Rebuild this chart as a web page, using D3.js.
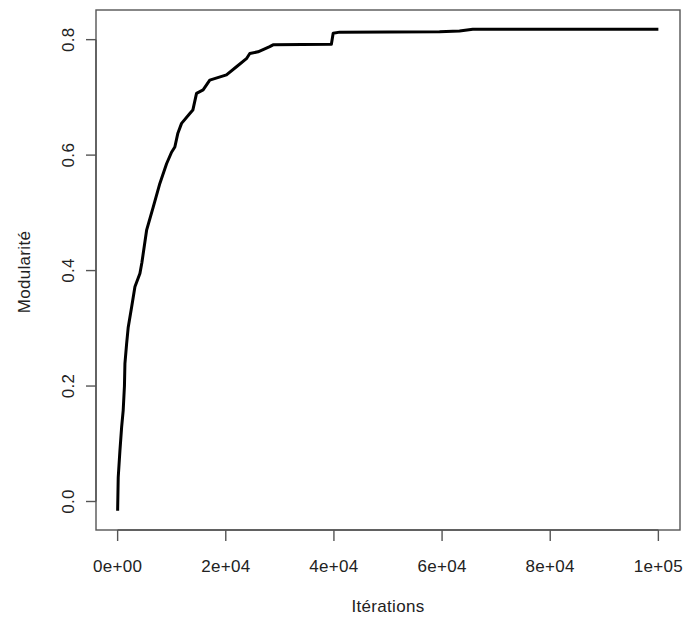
<!DOCTYPE html>
<html>
<head>
<meta charset="utf-8">
<script src="https://cdn.jsdelivr.net/npm/d3@7"></script>
<style>
    body { margin: 0; background: #fff; }
    text { font-family: "Liberation Sans", Arial, sans-serif; font-size: 17px; letter-spacing: 0.3px; fill: #222; }
</style>
</head>
<body>
<script>
// iterations vs modularity
const iterations = [0, 110, 425, 740, 1030, 1260, 1350, 1660, 1960, 2590, 3200, 4120, 4490,
    5360, 6580, 7810, 9050, 9970, 10580, 11140, 11820, 13350, 13910, 14590, 15810, 17040,
    20130, 21980, 23820, 24440, 25970, 28130, 28740, 39530, 39860, 41060, 59530, 63220,
    65680, 100000];
const modularity = [-0.016, 0.042, 0.088, 0.129, 0.158, 0.200, 0.239, 0.273, 0.302, 0.337,
    0.372, 0.395, 0.414, 0.470, 0.510, 0.551, 0.585, 0.605, 0.614, 0.638, 0.655, 0.672,
    0.678, 0.707, 0.713, 0.730, 0.739, 0.753, 0.767, 0.776, 0.779, 0.788, 0.791, 0.792,
    0.811, 0.813, 0.8135, 0.815, 0.818, 0.818];
const xTicks = [0, 20000, 40000, 60000, 80000, 100000];
const xTickLabels = ["0e+00", "2e+04", "4e+04", "6e+04", "8e+04", "1e+05"];
const yTicks = [0, 0.2, 0.4, 0.6, 0.8];
const yTickLabels = ["0.0", "0.2", "0.4", "0.6", "0.8"];

const width = 686, height = 617;
const box = {left: 96, right: 680, top: 10, bottom: 530};

// R style 4% padding around the data range
function padded(ext) {
    let d = (ext[1] - ext[0]) * 0.04;
    return [ext[0] - d, ext[1] + d];
}

const x = d3.scaleLinear().domain(padded(d3.extent(iterations))).range([box.left, box.right]);
const y = d3.scaleLinear().domain(padded(d3.extent(modularity))).range([box.bottom, box.top]);

const svg = d3.select("body").append("svg")
    .attr("width", width)
    .attr("height", height);

svg.append("rect")
    .attr("x", box.left)
    .attr("y", box.top)
    .attr("width", box.right - box.left)
    .attr("height", box.bottom - box.top)
    .style("fill", "none")
    .style("stroke", "#555")
    .style("stroke-width", 1.4);

// x axis
const xAxis = svg.append("g").attr("transform", `translate(0,${box.bottom})`);
xAxis.append("line")
    .attr("x1", x(xTicks[0])).attr("x2", x(xTicks[xTicks.length - 1]))
    .style("stroke", "#555").style("stroke-width", 1.4);
xTicks.forEach((t, i) => {
    xAxis.append("line")
        .attr("x1", x(t)).attr("x2", x(t))
        .attr("y1", 0).attr("y2", 11)
        .style("stroke", "#555").style("stroke-width", 1.4);
    xAxis.append("text")
        .attr("x", x(t))
        .attr("y", 42)
        .attr("text-anchor", "middle")
        .text(xTickLabels[i]);
});

// y axis
const yAxis = svg.append("g").attr("transform", `translate(${box.left},0)`);
yAxis.append("line")
    .attr("y1", y(yTicks[0])).attr("y2", y(yTicks[yTicks.length - 1]))
    .style("stroke", "#555").style("stroke-width", 1.4);
yTicks.forEach((t, i) => {
    yAxis.append("line")
        .attr("x1", 0).attr("x2", -10)
        .attr("y1", y(t)).attr("y2", y(t))
        .style("stroke", "#555").style("stroke-width", 1.4);
    yAxis.append("text")
        .attr("transform", `translate(-22.5,${y(t)}) rotate(-90)`)
        .attr("text-anchor", "middle")
        .text(yTickLabels[i]);
});

// titles
svg.append("text")
    .attr("x", (box.left + box.right) / 2)
    .attr("y", 612)
    .attr("text-anchor", "middle")
    .text("Itérations");

svg.append("text")
    .attr("transform", `translate(29.5,${(box.top + box.bottom) / 2 + 2}) rotate(-90)`)
    .attr("text-anchor", "middle")
    .text("Modularité");

// the curve
const line = d3.line()
    .x(d => x(d[0]))
    .y(d => y(d[1]));

svg.append("path")
    .datum(iterations.map((v, i) => [v, modularity[i]]))
    .attr("d", line)
    .style("fill", "none")
    .style("stroke", "#000")
    .style("stroke-width", 3)
    .style("stroke-linejoin", "round");
</script>
</body>
</html>
